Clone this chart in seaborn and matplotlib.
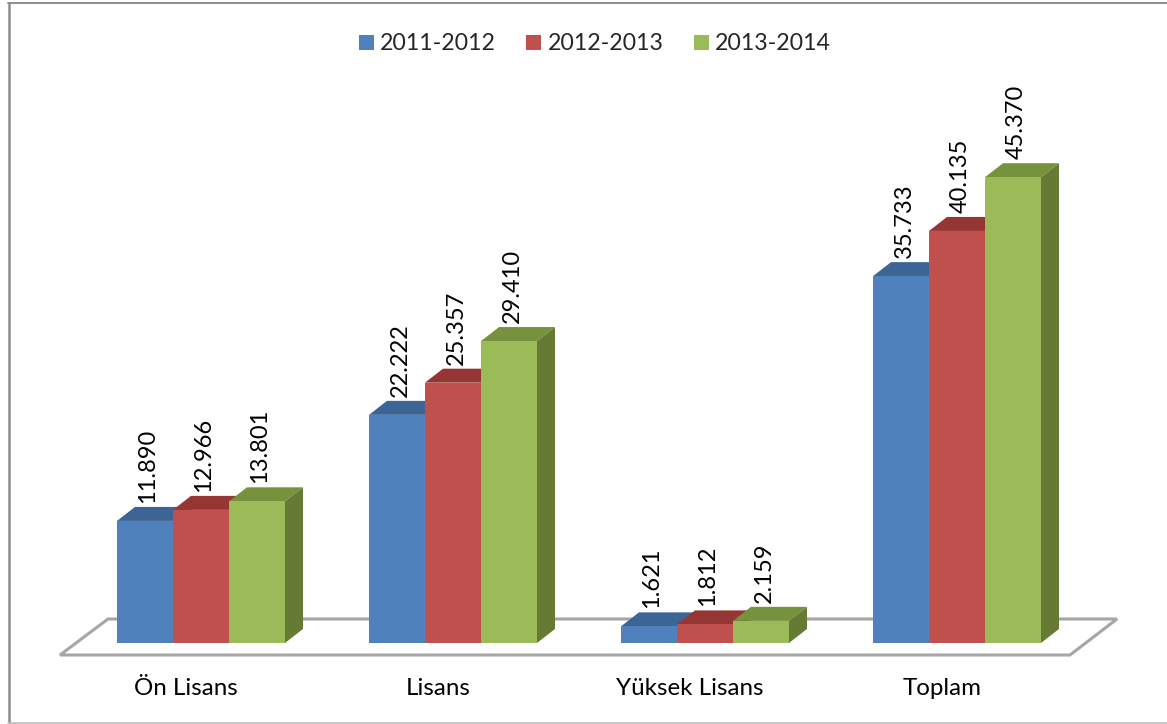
import matplotlib
matplotlib.use('agg')
from matplotlib import pyplot as plt
from matplotlib.lines import Line2D
from matplotlib.transforms import ScaledTranslation
import pandas as pd
import seaborn as sns

categories = ['Ön Lisans', 'Lisans', 'Yüksek Lisans', 'Toplam']
years = ['2011-2012', '2012-2013', '2013-2014']
values_2011 = [11890, 22222, 1621, 35733]
values_2012 = [12966, 25357, 1812, 40135]
values_2013 = [13801, 29410, 2159, 45370]

front_colors = ['#4F81BD', '#C0504D', '#9BBB59']
top_colors = ['#3C6495', '#963634', '#76923C']
side_colors = ['#3A5F8C', '#8C3836', '#667A34']

W, H = 1167, 724
Y_MAX = 60000
# pixel sizes of the axes
AX_W, AX_H = 1008, 616

df = pd.DataFrame({
    'kategori': categories * 3,
    'yil': [y for y in years for _ in categories],
    'ogrenci': values_2011 + values_2012 + values_2013,
})

sns.set_theme(style='white')
plt.rcParams['font.family'] = ['Lato', 'DejaVu Sans']

fig = plt.figure(figsize=(W / 100, H / 100), dpi=100)
ax = fig.add_axes([75 / W, 81 / H, AX_W / W, AX_H / H])
sns.barplot(data=df, x='kategori', y='ogrenci', hue='yil', palette=front_colors,
            saturation=1, width=2 / 3, gap=0, ax=ax, zorder=3, linewidth=0)
ax.set_xlim(-0.5, 3.5)
ax.set_ylim(0, Y_MAX)
ax.set_xlabel('')
ax.set_ylabel('')
ax.set_yticks([])
sns.despine(ax=ax, left=True, bottom=True)

# one pixel in data units
px = 4 / AX_W
py = Y_MAX / AX_H
dx, dy = 18 * px, 14 * py

# the 3d look: top and side faces behind each bar
for container, top, side in zip(ax.containers, top_colors, side_colors):
    for bar in container:
        x0, x1 = bar.get_x(), bar.get_x() + bar.get_width()
        h = bar.get_height()
        ax.fill([x0, x1, x1 + dx, x0 + dx], [h, h, h + dy, h + dy],
                color=top, lw=0, zorder=2, clip_on=False)
        ax.fill([x1, x1 + dx, x1 + dx, x1], [0, dy, h + dy, h],
                color=side, lw=0, zorder=2, clip_on=False)
        label = f'{int(h):,}'.replace(',', '.')
        ax.annotate(label, (bar.get_x() + bar.get_width() / 2, h),
                    xytext=(3 * 0.72, 18 * 0.72), textcoords='offset points',
                    rotation=90, ha='center', va='bottom', fontsize=17,
                    color='black', zorder=4)

# floor
ax.fill([-0.5 - 15 * px, 3.5 - 13 * px, 3.5 + 34 * px, -0.5 + 33 * px],
        [-12 * py, -12 * py, 24 * py, 24 * py],
        facecolor='white', edgecolor='#A6A6A6', lw=2.2, zorder=1, clip_on=False)

ax.tick_params(axis='x', length=0, pad=25, labelsize=17.4, labelcolor='black')
for tick in ax.get_xticklabels():
    tick.set_transform(tick.get_transform() + ScaledTranslation(-0.15, 0, fig.dpi_scale_trans))

sns.move_legend(ax, 'center', bbox_to_anchor=(595 / W, 1 - 44 / H),
                bbox_transform=fig.transFigure, ncol=3, frameon=False, title=None,
                fontsize=16.7, handlelength=0.64, handleheight=0.64,
                handletextpad=0.28, columnspacing=1.3)

# frame, the right edge is cut off in the picture
fig.add_artist(Line2D([9 / W, 9 / W], [0, 1 - 2.5 / H], color='#8C8C8C', lw=1.8))
fig.add_artist(Line2D([8 / W, 1], [1 - 3 / H, 1 - 3 / H], color='#8C8C8C', lw=1.4))
fig.add_artist(Line2D([8 / W, 1], [0.7 / H, 0.7 / H], color='#BDBDBD', lw=1.2))

fig.savefig('out.png', dpi=100)
plt.close(fig)
